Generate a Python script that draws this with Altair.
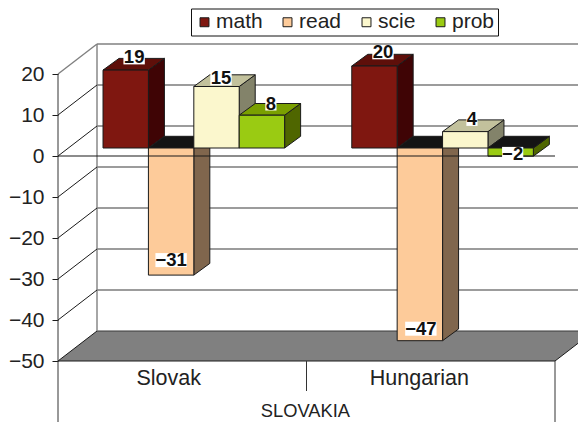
import altair as alt
import pandas as pd

categories = ["Slovak", "Hungarian"]
series = ["math", "read", "scie", "prob"]
math = [19, 20]
read = [-31, -47]
scie = [15, 4]
prob = [8, -2]
y_ticks = [-50, -40, -30, -20, -10, 0, 10, 20]
group_title = "SLOVAKIA"

values = {"math": math, "read": read, "scie": scie, "prob": prob}
front_colors = ["#7f1710", "#fdcb9a", "#fbf7cd", "#9acb12"]
side_colors = {"math": "#3f0405", "read": "#80664d", "scie": "#83836a", "prob": "#4f6600"}
top_colors = {"math": "#5e0f0a", "read": "#141414", "scie": "#c2c19c", "prob": "#7aa000"}
under_color = "#141414"
ink = "#1a1a1a"
text_ink = "#222222"
FONT = "Liberation Sans"

# layout, in scale units (1 x unit = one category, 1 y unit = one percentage point)
X_PX = 248.75
Y_PX = 4.1
PLOT_W, PLOT_H = 520, 414
xs = alt.Scale(domain=[0, PLOT_W / X_PX], range=[0, PLOT_W], nice=False, zero=False)
ys = alt.Scale(domain=[(156 - 422) / Y_PX, (156 - 8) / Y_PX], range=[PLOT_H, 0], nice=False, zero=False)
WALL_DX, WALL_DY = 39 / X_PX, 30 / Y_PX
BAR_DX, BAR_DY = 16 / X_PX, 11.7 / Y_PX
PLANE = 8 / Y_PX
BAR_START, BAR_W = 0.181, 0.1825
AX_MIN, AX_MAX = -50, 20
X_END = 497 / X_PX
CAT_CENTRES = [0.445, 1.453]
# label nudges per (series, category), px
label_nudge = {
    ("math", 0): (8.4, 1), ("math", 1): (8.5, 2),
    ("read", 0): (0, 3), ("read", 1): (1, 0),
    ("scie", 0): (4.5, -3.5), ("scie", 1): (6.7, 1),
    ("prob", 0): (9, 0), ("prob", 1): (2, -9.7),
}

y_axis = alt.Axis(
    values=y_ticks, title=None, grid=False, domain=False, tickSize=6, tickColor=ink,
    labelFont=FONT, labelFontSize=21, labelColor=text_ink, labelPadding=8, format="d")
X = alt.X("x:Q", scale=xs, axis=None)
Y = alt.Y("y:Q", scale=ys, axis=y_axis)
legend = alt.Legend(
    orient="none", legendX=133, legendY=0.5, direction="horizontal", columns=4,
    title=None, symbolType="square", symbolSize=80, symbolStrokeColor=ink, symbolStrokeWidth=1,
    labelFont=FONT, labelFontSize=21, labelColor=text_ink, labelOffset=1,
    columnPadding=14, padding=3, strokeColor="#111111", fillColor="white",
    symbolOpacity=1,
)
COLOR = alt.Color("series:N", scale=alt.Scale(domain=series, range=front_colors), legend=legend)


def rules(rows, color, width=1):
    return alt.Chart(pd.DataFrame(rows)).mark_rule(color=color, strokeWidth=width).encode(
        x=X, x2=alt.X2("x2"), y=Y, y2=alt.Y2("y2"))


layers = []
# floor
floor = pd.DataFrame([
    {"y": AX_MIN, "x": 0, "x2": X_END},
    {"y": AX_MIN + WALL_DY, "x": WALL_DX, "x2": X_END + WALL_DX},
])
layers.append(alt.Chart(floor).mark_area(orient="horizontal", color="#808080").encode(
    x=X, x2=alt.X2("x2"), y=Y))

# back wall, grid lines and side wall
back_end = X_END + WALL_DX
layers.append(rules([{"x": WALL_DX, "x2": back_end, "y": t + WALL_DY, "y2": t + WALL_DY}
                     for t in y_ticks if t not in (AX_MAX,)], "#3a3a3a", 1.1))
layers.append(rules([{"x": WALL_DX, "x2": back_end, "y": AX_MAX + WALL_DY, "y2": AX_MAX + WALL_DY},
                     {"x": WALL_DX, "x2": WALL_DX, "y": AX_MIN + WALL_DY, "y2": AX_MAX + WALL_DY},
                     {"x": 0, "x2": WALL_DX, "y": AX_MAX, "y2": AX_MAX + WALL_DY}], "#808080", 1.4))
layers.append(rules([{"x": 0, "x2": WALL_DX, "y": t, "y2": t + WALL_DY}
                     for t in y_ticks if t != AX_MAX], ink, 1))
layers.append(rules([{"x": X_END, "x2": X_END + WALL_DX, "y": AX_MIN, "y2": AX_MIN + WALL_DY}], ink, 1))

# bars: side, top, then front of each series, left to right
for i, s in enumerate(series):
    side_rows, top_rows, front_rows = [], [], []
    for c, v in enumerate(values[s]):
        xl = c + BAR_START + i * BAR_W
        xr = xl + BAR_W
        low, high = PLANE + min(v, 0), PLANE + max(v, 0)
        side_rows += [
            {"key": c, "x": xr, "y": low, "y2": high, "fill": side_colors[s]},
            {"key": c, "x": xr + BAR_DX, "y": low + BAR_DY, "y2": high + BAR_DY, "fill": side_colors[s]},
        ]
        top = top_colors[s] if v > 0 else under_color
        top_rows += [
            {"key": c, "y": high, "x": xl, "x2": xr, "fill": top},
            {"key": c, "y": high + BAR_DY, "x": xl + BAR_DX, "x2": xr + BAR_DX, "fill": top},
        ]
        front_rows.append({"series": s, "x": xl, "x2": xr, "y": low, "y2": high})
    FILL = alt.Fill("fill:N", scale=None, legend=None)
    layers.append(alt.Chart(pd.DataFrame(side_rows)).mark_area(
        orient="vertical", stroke=ink, strokeWidth=1).encode(
        x=X, y=Y, y2=alt.Y2("y2"), detail="key:N", fill=FILL))
    layers.append(alt.Chart(pd.DataFrame(top_rows)).mark_area(
        orient="horizontal", stroke=ink, strokeWidth=1).encode(
        x=X, x2=alt.X2("x2"), y=Y, detail="key:N", fill=FILL))
    layers.append(alt.Chart(pd.DataFrame(front_rows)).mark_rect(
        stroke=ink, strokeWidth=1, opacity=1).encode(
        x=X, x2=alt.X2("x2"), y=Y, y2=alt.Y2("y2"), color=COLOR))

# front zero line and floor front edge, with left axis line and category dividers
layers.append(rules([{"x": 0, "x2": X_END, "y": 0, "y2": 0},
                     {"x": 0, "x2": X_END, "y": AX_MIN, "y2": AX_MIN}], ink, 1.1))
axis_low = (156 - 422) / Y_PX
layers.append(rules([{"x": 0, "x2": 0, "y": axis_low, "y2": AX_MAX},
                     {"x": X_END, "x2": X_END, "y": axis_low, "y2": AX_MIN},
                     {"x": X_END / 2, "x2": X_END / 2, "y": (156 - 391) / Y_PX, "y2": AX_MIN}], "#333333", 1))

# value labels on white patches
box_rows, label_rows = [], []
for i, s in enumerate(series):
    for c, v in enumerate(values[s]):
        dx, dy = label_nudge[(s, c)]
        xc = c + BAR_START + (i + 0.5) * BAR_W + dx / X_PX
        yc = PLANE + v + BAR_DY * 1 + dy / Y_PX if v > 0 else PLANE + v + (12 + dy) / Y_PX
        n = len(str(abs(v))) * 10.2 + (10 if v < 0 else 0) + 1
        box_rows.append({"x": xc - n / 2 / X_PX, "x2": xc + n / 2 / X_PX,
                         "y": yc - 7 / Y_PX, "y2": yc + 7 / Y_PX})
        label_rows.append({"x": xc, "y": yc, "value": v})
layers.append(alt.Chart(pd.DataFrame(box_rows)).mark_rect(color="white", opacity=1).encode(
    x=X, x2=alt.X2("x2"), y=Y, y2=alt.Y2("y2")))
layers.append(alt.Chart(pd.DataFrame(label_rows)).mark_text(
    font=FONT, fontSize=18.5, fontWeight="bold", color="#111111", baseline="middle", align="center").encode(
    x=X, y=Y, text=alt.Text("value:Q", format="d")))

# category and group labels
cat_df = pd.DataFrame({"x": CAT_CENTRES,
                       "y": [(156 - 385) / Y_PX] * len(categories), "label": categories})
layers.append(alt.Chart(cat_df).mark_text(
    font=FONT, fontSize=21.5, color=text_ink, baseline="alphabetic", align="center").encode(
    x=X, y=Y, text="label:N"))
grp_df = pd.DataFrame({"x": [(305.4 - 58) / X_PX], "y": [(156 - 416.5) / Y_PX], "label": [group_title]})
layers.append(alt.Chart(grp_df).mark_text(
    font=FONT, fontSize=18.3, color=text_ink, baseline="alphabetic", align="center").encode(
    x=X, y=Y, text="label:N"))

chart = alt.layer(*layers).properties(
    width=PLOT_W, height=PLOT_H,
    padding={"left": 50, "top": 0, "right": 0, "bottom": 0},
    autosize=alt.AutoSizeParams(type="none"),
).configure_view(stroke=None)

chart.save("out.html", embed_options={"renderer": "svg", "actions": False})
